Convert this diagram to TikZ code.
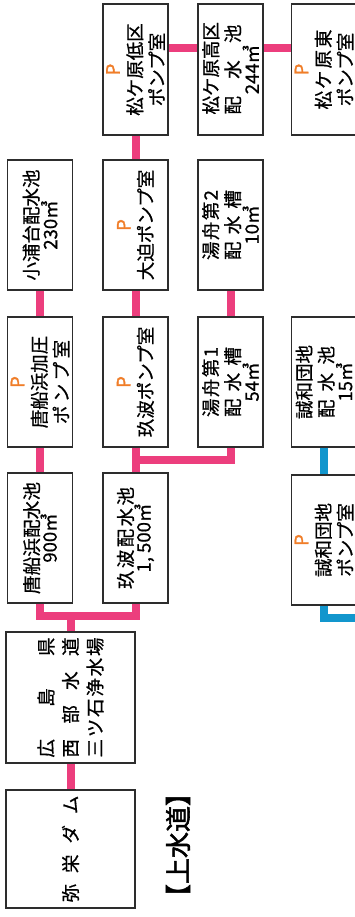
\documentclass[tikz,border=0pt]{standalone}
\usepackage{fontspec}
\setmainfont{Noto Sans CJK JP}[UprightFeatures={FakeBold=0.7}]
\newfontfamily\jpbold{Noto Sans CJK JP}[FakeBold=2]
\usepackage{tikz}
\definecolor{boxgray}{RGB}{45,45,45}
\definecolor{pipepink}{RGB}{236,62,125}
\definecolor{pipeblue}{RGB}{18,150,205}
\definecolor{porange}{RGB}{240,125,40}
\newcommand{\evenline}[2]{\makebox[#1][s]{\spaceskip=0pt plus 1fil\relax #2}}
\newcommand{\pmark}{{\color{porange}\jpbold P}}

\begin{document}
\begin{tikzpicture}[x=1pt, y=-1pt,
  box/.style={draw=boxgray, line width=1.8pt, fill=white, rotate=90, minimum width=130pt, minimum height=65pt, inner sep=0pt, align=center, font=\fontsize{18.5}{22}\selectfont},
  pipe/.style={draw=pipepink, line width=8pt},
  bluepipe/.style={draw=pipeblue, line width=7.5pt}]
\useasboundingbox (0,0) rectangle (355,917);
\clip (0,0) rectangle (355,917);
\node[box, minimum width=118pt, minimum height=129pt] (dam) at (70.5,849) {\evenline{107pt}{弥 栄 ダ ム}};
\node[box, minimum width=131pt, minimum height=129pt, font=\fontsize{18.5}{24.5}\selectfont] (plant) at (70.5,697.5) {\evenline{120pt}{広 島 県}\\ \evenline{120pt}{西 部 水 道}\\ \evenline{120pt}{三 ツ 石 浄 水 場}};
\node[box] (karaPool) at (40,538) {\evenline{112pt}{唐 船 浜 配 水 池}\\[-4pt] 900㎥};
\node[box] (karaPump) at (40,382) {\pmark\\ 唐船浜加圧\\ \evenline{84pt}{ポ ン プ 室}};
\node[box] (koura) at (40,225) {小浦台配水池\\[-3pt] 230㎥};
\node[box] (kubaPool) at (135.5,538) {\evenline{102pt}{玖 波 配 水 池}\\[-4pt] 1, 500㎥};
\node[box] (kubaPump) at (135.5,382) {\pmark\\ 玖波ポンプ室};
\node[box] (osako) at (135.5,225) {\pmark\\ 大迫ポンプ室};
\node[box, minimum width=131pt] (matsuLow) at (135.5,69.5) {\pmark\\ 松ケ原低区\\ ポンプ室};
\node[box] (yufune1) at (230.5,382) {\evenline{70pt}{湯 舟 第 1}\\ \evenline{70pt}{配 水 槽}\\[-3pt] 54㎥};
\node[box] (yufune2) at (230.5,225) {\evenline{70pt}{湯 舟 第 2}\\ \evenline{70pt}{配 水 槽}\\[-3pt] 10㎥};
\node[box, minimum width=131pt] (matsuHigh) at (230.5,69.5) {\evenline{90pt}{松 ケ 原 高 区}\\ \evenline{90pt}{配 水 池}\\[-3pt] 244㎥};
\node[box, minimum width=131pt] (matsuEast) at (324,69.5) {\pmark\\ \evenline{80pt}{松 ケ 原 東}\\ ポンプ室};
\node[box] (seiwaPool) at (324,382) {誠和団地\\ \evenline{72pt}{配 水 池}\\[-3pt] 15㎥};
\node[box] (seiwaPump) at (324,540) {\pmark\\ 誠和団地\\ ポンプ室};
\node[rotate=90, font=\jpbold\fontsize{26}{26}\selectfont] (title) at (178,845) {【上水道】};
\draw[pipe] (dam) -- (plant);
\draw[pipe] (plant.east) -- ++(0,-15) coordinate (fork) -| (karaPool.west);
\draw[pipe] (fork) -| (kubaPool.west);
\draw[pipe] (karaPool) -- (karaPump);
\draw[pipe] (karaPump) -- (koura);
\draw[pipe] (kubaPool) -- (kubaPump);
\draw[pipe] (kubaPool.east) -- ++(0,-12.5) coordinate (fork2) -| (yufune1.west);
\draw[pipe] (kubaPump) -- (osako);
\draw[pipe] (osako) -- (matsuLow);
\draw[pipe] (yufune1) -- (yufune2);
\coordinate (hi) at (0,48);
\draw[pipe] (matsuLow.south |- hi) -- (matsuHigh.north |- hi);
\draw[pipe] (matsuHigh.south |- hi) -- (matsuEast.north |- hi);
\draw[bluepipe] (seiwaPump) -- (seiwaPool);
\coordinate (drain) at (360,618);
\draw[bluepipe] (seiwaPump.west) |- (drain);
\end{tikzpicture}
\end{document}
